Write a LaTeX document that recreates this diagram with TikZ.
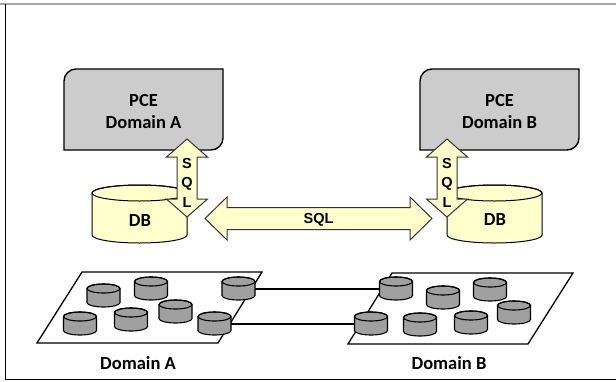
\documentclass[tikz,border=0pt]{standalone}
\usepackage{fontspec}
\setmainfont{Carlito}
\newfontfamily\sqlfont{Liberation Sans}

\definecolor{pcegray}{HTML}{CCCCCC}
\definecolor{dbyellow}{HTML}{FFFFCC}
\definecolor{diskgray}{HTML}{A0A0A0}

\tikzset{
  lbl/.style={font=\fontsize{18.5}{22}\selectfont\bfseries, align=center, inner sep=0},
  sqllbl/.style={font=\sqlfont\fontsize{14.5}{19.5}\selectfont\bfseries, align=center, inner sep=0},
  link/.style={line width=2.6pt},
  disk/.pic={
    \filldraw[fill=diskgray, line width=1.1pt] (-16.5,0) -- (-16.5,14)
      arc[start angle=180, end angle=0, x radius=16.5, y radius=4.5] -- (16.5,0)
      arc[start angle=0, end angle=-180, x radius=16.5, y radius=4.5] -- cycle;
    \draw[line width=1.1pt] (0,0) ellipse [x radius=16.5, y radius=4.5];
    \coordinate (-w) at (-16.5,7.5);
    \coordinate (-e) at (16.5,7.5);
  },
  drum/.pic={
    \filldraw[fill=dbyellow, line width=1pt] (-47.5,0) -- (-47.5,42)
      arc[start angle=180, end angle=0, x radius=47.5, y radius=8] -- (47.5,0)
      arc[start angle=0, end angle=-180, x radius=47.5, y radius=8] -- cycle;
    \draw[line width=1pt] (0,0) ellipse [x radius=47.5, y radius=8];
  },
  pce/.pic={
    \filldraw[fill=pcegray, line width=1.4pt] (-79.5,40.5) -- (-79.5,-28.5)
      arc[start angle=180, end angle=270, radius=12] -- (79.5,-40.5) -- (79.5,28.5)
      arc[start angle=0, end angle=90, radius=12] -- cycle;
  },
  updown/.pic={
    \filldraw[fill=dbyellow, draw=black!80, line width=1pt] (0,-39) -- (20.5,-21) -- (10,-21) -- (10,21)
      -- (20.5,21) -- (0,39) -- (-20.5,21) -- (-10,21) -- (-10,-21) -- (-20.5,-21) -- cycle;
  }
}

\begin{document}
\begin{tikzpicture}[x=1pt, y=-1pt]
\useasboundingbox (0,0) rectangle (616,381);

% frame
\draw[black!35, line width=1.2pt] (0,4) -- (616,4);
\draw[line width=1pt] (5,4) -- (5,379) -- (616,379);

% domains
\filldraw[fill=white, line width=1.3pt] (82,272) -- (262,272) -- (218,343) -- (37,343) -- cycle;
\filldraw[fill=white, line width=1.3pt] (392,273) -- (573,273) -- (528,344) -- (348,344) -- cycle;

\foreach \n/\x/\y in {a1/103.5/288.5, a2/151/281.5, a3/238.5/281.5, a4/80/316.5,
                      a5/131/312.5, a6/175.5/304.5, a7/214.5/316.5,
                      b1/396/281.5, b2/443/290.5, b3/490/282.5, b4/514/305.5,
                      b5/371/316.5, b6/420/317.5, b7/471/315.5}
  \pic (\n) at (\x,\y) {disk};

\draw[link] (a3-e) -- (b1-w);
\draw[link] (a7-e) -- (b5-w);

\node[lbl] (domA) at (138,363) {Domain A};
\node[lbl] (domB) at (449,363) {Domain B};

% PCEs and databases
\pic at (143.5,109.5) {pce};
\pic at (499.5,109.5) {pce};
\node[lbl] (pceA) at (143.5,111) {PCE\\Domain A};
\node[lbl] (pceB) at (499.5,111) {PCE\\Domain B};

\pic at (139.5,193) {drum};
\pic at (494.5,193) {drum};
\node[lbl] (dbA) at (140,220) {DB};
\node[lbl] (dbB) at (495,219) {DB};

% SQL arrows
\pic at (187,178) {updown};
\pic at (447,178) {updown};
\node[sqllbl] (sqlA) at (187,182.5) {S\\Q\\L};
\node[sqllbl] (sqlB) at (447,182.5) {S\\Q\\L};

\filldraw[fill=dbyellow, draw=black!80, line width=1pt] (205,218.5) -- (227,197) -- (227,207.5) -- (410,207.5)
  -- (410,197) -- (432,218.5) -- (410,240) -- (410,229.5) -- (227,229.5) -- (227,240) -- cycle;
\node[sqllbl] (sqlAB) at (318.5,219.5) {SQL};
\end{tikzpicture}
\end{document}
